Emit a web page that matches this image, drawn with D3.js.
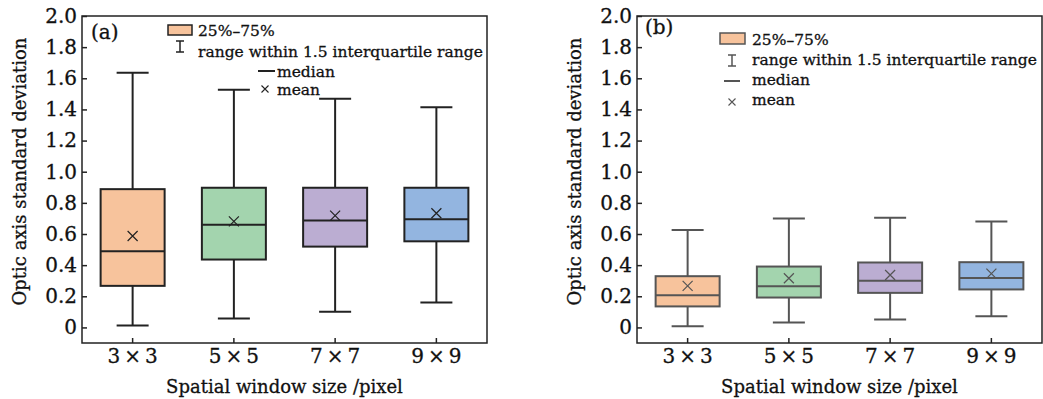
<!DOCTYPE html>
<html>
<head>
<meta charset="utf-8">
<script src="https://cdn.jsdelivr.net/npm/d3@7"></script>
<style>
  body { margin: 0; background: #fff; }
  text { font-family: "DejaVu Serif", "Liberation Serif", serif; stroke: #111; stroke-width: 0.3px; }
</style>
</head>
<body>
<script>
// window sizes on the x axis
var vensters = ["3\u2009×\u20093", "5\u2009×\u20095", "7\u2009×\u20097", "9\u2009×\u20099"];
var kleuren = ["#f7c39c", "#a3d4ae", "#bbadd2", "#93b5e0"];
var yTicks = [0, 0.2, 0.4, 0.6, 0.8, 1.0, 1.2, 1.4, 1.6, 1.8, 2.0];

// panel (a): whisker low, q1, median, q3, whisker high, mean
var aLaag = [0.013, 0.058, 0.10, 0.16];
var aQ1 = [0.267, 0.436, 0.519, 0.553];
var aMediaan = [0.489, 0.660, 0.686, 0.694];
var aQ3 = [0.888, 0.897, 0.897, 0.897];
var aHoog = [1.635, 1.527, 1.468, 1.414];
var aGemiddeld = [0.587, 0.681, 0.718, 0.733];

// panel (b)
var bLaag = [0.008, 0.032, 0.051, 0.072];
var bQ1 = [0.135, 0.192, 0.222, 0.244];
var bMediaan = [0.207, 0.265, 0.299, 0.318];
var bQ3 = [0.329, 0.391, 0.417, 0.419];
var bHoog = [0.626, 0.699, 0.705, 0.681];
var bGemiddeld = [0.267, 0.316, 0.337, 0.346];

var svg = d3.select("body").append("svg")
    .attr("width", 1043)
    .attr("height", 399);

function maakPaneel(opties) {
  var marge = opties.marge;
  var breedte = opties.breedte;
  var hoogte = 327;
  var lijn = opties.lijn;

  var g = svg.append("g")
      .attr("transform", "translate(" + marge.links + "," + marge.boven + ")");

  var x = d3.scaleBand().domain(vensters).range([0, breedte]).padding(0);
  var y = d3.scaleLinear().domain([-0.1, 2.0]).range([hoogte, 0]);

  var data = vensters.map(function(v, i) {
    return {naam: v, laag: opties.laag[i], q1: opties.q1[i], med: opties.med[i],
            q3: opties.q3[i], hoog: opties.hoog[i], gem: opties.gem[i], kleur: kleuren[i]};
  });

  var boxB = 64, kapB = 32;

  var box = g.selectAll(".box").data(data).enter().append("g")
      .attr("transform", function(d) { return "translate(" + (x(d.naam) + x.bandwidth() / 2) + ",0)"; });

  // whiskers
  box.append("line")
      .attr("y1", function(d) { return y(d.laag); })
      .attr("y2", function(d) { return y(d.hoog); })
      .attr("stroke", lijn).attr("stroke-width", 2);
  box.append("line")
      .attr("x1", -kapB / 2).attr("x2", kapB / 2)
      .attr("y1", function(d) { return y(d.hoog); })
      .attr("y2", function(d) { return y(d.hoog); })
      .attr("stroke", lijn).attr("stroke-width", 2);
  box.append("line")
      .attr("x1", -kapB / 2).attr("x2", kapB / 2)
      .attr("y1", function(d) { return y(d.laag); })
      .attr("y2", function(d) { return y(d.laag); })
      .attr("stroke", lijn).attr("stroke-width", 2);

  // box
  box.append("rect")
      .attr("x", -boxB / 2).attr("width", boxB)
      .attr("y", function(d) { return y(d.q3); })
      .attr("height", function(d) { return y(d.q1) - y(d.q3); })
      .attr("fill", function(d) { return d.kleur; })
      .attr("stroke", lijn).attr("stroke-width", 2);

  // median
  box.append("line")
      .attr("x1", -boxB / 2).attr("x2", boxB / 2)
      .attr("y1", function(d) { return y(d.med); })
      .attr("y2", function(d) { return y(d.med); })
      .attr("stroke", lijn).attr("stroke-width", 2);

  // mean
  box.append("path")
      .attr("d", function(d) {
        var yy = y(d.gem), s = 5;
        return "M" + (-s) + "," + (yy - s) + "L" + s + "," + (yy + s) +
               "M" + s + "," + (yy - s) + "L" + (-s) + "," + (yy + s);
      })
      .attr("stroke", lijn).attr("stroke-width", 1.2).attr("fill", "none");

  // assen
  var asY = d3.axisLeft(y).tickValues(yTicks).tickSizeInner(-5).tickSizeOuter(0)
      .tickPadding(5)
      .tickFormat(function(d) { return d === 0 ? "0" : d3.format(".1f")(d); });
  var gy = g.append("g").call(asY);
  gy.select(".domain").remove();
  gy.selectAll("line").attr("stroke", "#222").attr("stroke-width", 1.5);
  gy.selectAll("text").attr("font-size", "20px").attr("fill", "#111")
      .attr("font-family", "DejaVu Serif");

  var asX = d3.axisBottom(x).tickSizeInner(-5).tickSizeOuter(0).tickPadding(6);
  var gx = g.append("g").attr("transform", "translate(0," + hoogte + ")").call(asX);
  gx.select(".domain").remove();
  gx.selectAll("line").attr("stroke", "#222").attr("stroke-width", 1.5);
  gx.selectAll("text").attr("font-size", "20px").attr("fill", "#111")
      .attr("font-family", "DejaVu Serif");

  // kader
  g.append("rect")
      .attr("width", breedte).attr("height", hoogte)
      .attr("fill", "none").attr("stroke", "#222").attr("stroke-width", 1.5);

  // titels
  g.append("text")
      .attr("transform", "rotate(-90)")
      .attr("x", -hoogte / 2 + 8)
      .attr("y", opties.yTitelX)
      .attr("text-anchor", "middle")
      .attr("font-size", "18px")
      .attr("fill", "#111")
      .text("Optic axis standard deviation");

  g.append("text")
      .attr("x", breedte / 2)
      .attr("y", hoogte + 50)
      .attr("text-anchor", "middle")
      .attr("font-size", "18px")
      .attr("fill", "#111")
      .text("Spatial window size /pixel");

  g.append("text")
      .attr("x", opties.label.x).attr("y", opties.label.y)
      .attr("font-size", "20px").attr("fill", "#111")
      .text(opties.label.tekst);

  // legenda
  var L = opties.legenda;
  g.append("rect")
      .attr("x", L.rect[0]).attr("y", L.rect[1]).attr("width", L.rect[2]).attr("height", L.rect[3])
      .attr("fill", kleuren[0]).attr("stroke", lijn).attr("stroke-width", 1.5);
  var ix = L.ibar[0], iy = L.ibar[1];
  g.append("path")
      .attr("d", "M" + (ix - 4) + "," + iy + "H" + (ix + 4) + "M" + ix + "," + iy + "V" + (iy + 11) +
                 "M" + (ix - 4) + "," + (iy + 11) + "H" + (ix + 4))
      .attr("stroke", lijn).attr("stroke-width", 1.5).attr("fill", "none");
  g.append("line")
      .attr("x1", L.med[0]).attr("x2", L.med[0] + L.med[2])
      .attr("y1", L.med[1]).attr("y2", L.med[1])
      .attr("stroke", lijn).attr("stroke-width", 2);
  var mx = L.gem[0], my = L.gem[1];
  g.append("path")
      .attr("d", "M" + (mx - 3.5) + "," + (my - 3.5) + "L" + (mx + 3.5) + "," + (my + 3.5) +
                 "M" + (mx + 3.5) + "," + (my - 3.5) + "L" + (mx - 3.5) + "," + (my + 3.5))
      .attr("stroke", lijn).attr("stroke-width", 1.1).attr("fill", "none");

  var teksten = ["25%–75%", "range within 1.5 interquartile range", "median", "mean"];
  teksten.forEach(function(t, i) {
    g.append("text")
        .attr("x", L.tekst[i][0]).attr("y", L.tekst[i][1])
        .attr("dy", "0.35em")
        .attr("font-size", "15.5px").attr("fill", "#111")
        .text(t);
  });
}

maakPaneel({
  marge: {links: 82, boven: 16},
  breedte: 405,
  lijn: "#222",
  laag: aLaag, q1: aQ1, med: aMediaan, q3: aQ3, hoog: aHoog, gem: aGemiddeld,
  yTitelX: -56,
  label: {x: 9, y: 23, tekst: "(a)"},
  legenda: {
    rect: [86, 9, 24, 10],
    ibar: [98, 25],
    med: [176, 55, 17],
    gem: [183, 73],
    tekst: [[116, 15], [116, 36], [195, 56], [195, 74]]
  }
});

maakPaneel({
  marge: {links: 637, boven: 16},
  breedte: 405,
  lijn: "#555",
  laag: bLaag, q1: bQ1, med: bMediaan, q3: bQ3, hoog: bHoog, gem: bGemiddeld,
  yTitelX: -56,
  label: {x: 8, y: 18, tekst: "(b)"},
  legenda: {
    rect: [83, 17, 25, 11],
    ibar: [95, 39],
    med: [87, 65, 16],
    gem: [95, 86],
    tekst: [[115, 24], [115, 44], [115, 64], [115, 84]]
  }
});
</script>
</body>
</html>
